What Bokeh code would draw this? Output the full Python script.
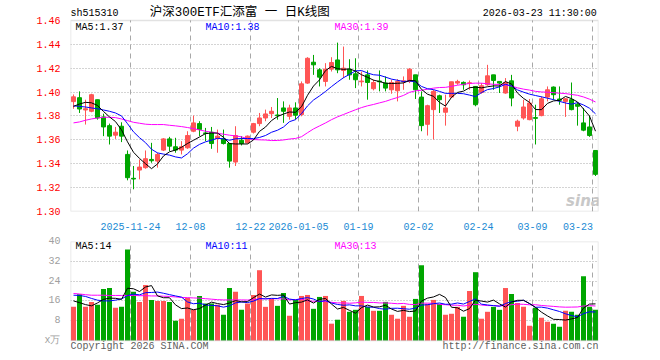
from bokeh.plotting import figure
from bokeh.layouts import column
from bokeh.models import FixedTicker, Label, ColumnDataSource, NumeralTickFormatter, BoxAnnotation
from bokeh.embed import file_html
from bokeh.resources import INLINE

# ---------------- data ----------------
open_ = [1.392, 1.3953, 1.385, 1.3839, 1.3936, 1.3792, 1.3719, 1.3639, 1.3714, 1.3478,
         1.3278, 1.3347, 1.3367, 1.3436, 1.3422, 1.3514, 1.3608, 1.3542, 1.3514, 1.3533,
         1.3672, 1.3736, 1.3658, 1.3664, 1.3611, 1.3608, 1.3569, 1.3414, 1.3597, 1.3575,
         1.3664, 1.3736, 1.3783, 1.3819, 1.3808, 1.3867, 1.3797, 1.3867, 1.3811, 1.4075,
         1.4250, 1.4186, 1.4089, 1.4192, 1.4269, 1.4181, 1.4192, 1.4153, 1.4086, 1.4144,
         1.4028, 1.4092, 1.4075, 1.4019, 1.4011, 1.4086, 1.4089, 1.4144, 1.3958, 1.3730,
         1.3853, 1.3969, 1.3831, 1.3958, 1.4075, 1.4081, 1.4072, 1.4047, 1.3997, 1.4061,
         1.4144, 1.4089, 1.3992, 1.4094, 1.3714, 1.3783, 1.3769, 1.3786, 1.3803, 1.3958,
         1.4042, 1.3942, 1.3922, 1.3936, 1.3897, 1.3742, 1.3708, 1.3511]
high = [1.398, 1.4006, 1.3936, 1.3986, 1.3936, 1.3819, 1.3736, 1.3708, 1.3747, 1.3511,
        1.3381, 1.3436, 1.3511, 1.3575, 1.3492, 1.3614, 1.3625, 1.3617, 1.3589, 1.3672,
        1.3803, 1.3756, 1.3700, 1.3708, 1.3686, 1.3686, 1.3575, 1.3714, 1.3631, 1.3636,
        1.3742, 1.3825, 1.3853, 1.3875, 1.3950, 1.3922, 1.3894, 1.3914, 1.4089, 1.4292,
        1.4311, 1.4200, 1.4242, 1.4292, 1.4414, 1.4381, 1.4275, 1.4283, 1.4172, 1.4181,
        1.4103, 1.4181, 1.4131, 1.4103, 1.4108, 1.4131, 1.4200, 1.4144, 1.4006, 1.3894,
        1.4019, 1.3978, 1.3978, 1.4086, 1.4103, 1.4089, 1.4097, 1.4047, 1.4075, 1.4228,
        1.4144, 1.4089, 1.4117, 1.4144, 1.3769, 1.3936, 1.3942, 1.3894, 1.3964, 1.4047,
        1.4047, 1.4047, 1.3950, 1.4080, 1.3914, 1.3867, 1.3803, 1.3511]
low = [1.386, 1.3825, 1.3728, 1.3831, 1.3769, 1.3631, 1.3561, 1.3608, 1.3581, 1.3261,
       1.3186, 1.3269, 1.3358, 1.3408, 1.3367, 1.3506, 1.3506, 1.3492, 1.3478, 1.3525,
       1.3664, 1.3631, 1.3589, 1.3525, 1.3492, 1.3561, 1.3367, 1.3381, 1.3553, 1.3569,
       1.3653, 1.3714, 1.3756, 1.3783, 1.3769, 1.3742, 1.3769, 1.3769, 1.3797, 1.4069,
       1.4144, 1.4047, 1.4047, 1.4172, 1.4158, 1.4117, 1.4103, 1.4033, 1.4047, 1.3936,
       1.4014, 1.4006, 1.4006, 1.3986, 1.3922, 1.4019, 1.4075, 1.3942, 1.3672, 1.3636,
       1.3603, 1.3825, 1.3719, 1.3950, 1.4061, 1.4019, 1.4019, 1.3881, 1.3986, 1.4053,
       1.4019, 1.3992, 1.3986, 1.3881, 1.3672, 1.3769, 1.3764, 1.3561, 1.3797, 1.3922,
       1.3936, 1.3894, 1.3792, 1.3847, 1.3719, 1.3672, 1.3625, 1.3297]
close = [1.396, 1.3858, 1.386, 1.3978, 1.3783, 1.3708, 1.3631, 1.3664, 1.3631, 1.3283,
         1.3272, 1.3372, 1.3442, 1.3425, 1.3478, 1.3608, 1.3547, 1.3514, 1.3542, 1.3636,
         1.3742, 1.3686, 1.3653, 1.3569, 1.3631, 1.3569, 1.3422, 1.3636, 1.3569, 1.3631,
         1.3736, 1.3783, 1.3817, 1.3839, 1.3803, 1.3839, 1.3867, 1.3806, 1.4069, 1.4283,
         1.4228, 1.4125, 1.4192, 1.4247, 1.4186, 1.4200, 1.4144, 1.4103, 1.4092, 1.4080,
         1.4080, 1.4086, 1.4033, 1.4080, 1.4089, 1.4094, 1.4192, 1.4019, 1.3719, 1.3886,
         1.4006, 1.3936, 1.3867, 1.4086, 1.4089, 1.4061, 1.4078, 1.3894, 1.4053, 1.4136,
         1.4097, 1.4075, 1.4080, 1.3950, 1.3756, 1.3875, 1.3908, 1.3780, 1.3944, 1.4019,
         1.3978, 1.3931, 1.3944, 1.3853, 1.3881, 1.3681, 1.3636, 1.3311]
volume = [13.6, 18.7, 13.6, 15.6, 14.4, 20.8, 21.2, 13.2, 13.6, 36.8,
          19.7, 15.6, 22.4, 16.4, 16.0, 16.0, 15.6, 8.0, 8.8, 17.3,
          12.4, 18.0, 14.9, 14.9, 14.4, 10.4, 21.2, 19.7, 12.4, 14.9,
          18.4, 28.4, 13.6, 16.8, 14.0, 19.2, 10.0, 16.4, 18.0, 18.4,
          12.8, 17.6, 18.0, 6.8, 8.4, 16.0, 11.6, 12.4, 18.0, 13.6,
          12.0, 12.0, 15.6, 10.4, 8.8, 14.0, 9.6, 16.8, 30.4, 14.8,
          16.4, 14.8, 10.4, 10.8, 13.6, 9.6, 20.0, 27.6, 8.8, 11.6,
          13.6, 12.4, 21.2, 18.8, 15.2, 13.6, 6.0, 13.2, 9.2, 7.6,
          6.8, 5.6, 12.0, 11.6, 10.4, 26.0, 13.6, 12.4]

# moving-average values at the left edge (their windows start before the visible data)
ma5_head = [1.388, 1.390, 1.3914, 1.391]
ma10_head = [1.3885, 1.3880, 1.3875, 1.3867, 1.3860, 1.3850, 1.3839, 1.3825, 1.3800]
ma30_head = [1.3742, 1.3750, 1.3764, 1.3775, 1.3783, 1.3789, 1.3789, 1.3786, 1.3775, 1.3761,
             1.3747, 1.3739, 1.3731, 1.3728, 1.3728, 1.3728, 1.3722, 1.3717, 1.3711, 1.3703,
             1.3694, 1.3683, 1.3672, 1.3664, 1.3656, 1.3647, 1.3639, 1.3633, 1.3625]
vma5_head = [16.0, 15.3, 14.5, 14.0]
vma10_head = [18.3, 18.2, 17.8, 17.0, 16.3, 16.0, 16.0, 16.3, 16.8]
vma30_head = [19.0, 18.8, 18.5, 18.3, 18.3, 18.3, 18.2, 18.2, 18.2, 18.2,
              18.2, 18.1, 18.1, 18.0, 18.0, 17.9, 17.8, 17.6, 17.4, 17.3,
              17.2, 17.1, 16.9, 16.7, 16.5, 16.4, 16.4, 16.4, 16.4]

date_ticks = [10, 20, 30, 38, 48, 58, 68, 77, 87]
date_labels = ["2025-11-24", "12-08", "12-22", "2026-01-05", "01-19", "02-02", "02-24", "03-09", "03-23"]
price_ticks = [1.30, 1.32, 1.34, 1.36, 1.38, 1.40, 1.42, 1.44, 1.46]
vol_ticks = [0, 8, 16, 24, 32, 40]

code = "sh515310"
title_text = "沪深300ETF汇添富 一 日K线图"
stamp = "2026-03-23 11:30:00"
price_legend = ["MA5:1.37", "MA10:1.38", "MA30:1.39"]
vol_legend = ["MA5:14", "MA10:11", "MA30:13"]
footer_left = "Copyright 2026 SINA.COM"
footer_right = "http://finance.sina.com.cn"

# ---------------- derived ----------------
def moving(vals, w, head):
    out = list(head)
    for i in range(len(head), len(vals)):
        out.append(sum(vals[i - w + 1:i + 1]) / w)
    return out

n = len(close)
xs = [i + 0.5 for i in range(n)]
UP, DOWN = "#ff5555", "#00a600"
colors = [UP if c >= o else DOWN for o, c in zip(open_, close)]
src = ColumnDataSource(dict(
    x=xs, high=high, low=low,
    top=[max(o, c) for o, c in zip(open_, close)],
    bottom=[min(o, c) for o, c in zip(open_, close)],
    color=colors, vol=volume,
    ma5=moving(close, 5, ma5_head), ma10=moving(close, 10, ma10_head),
    ma30=moving(close, 30, ma30_head),
    vma5=moving(volume, 5, vma5_head), vma10=moving(volume, 10, vma10_head),
    vma30=moving(volume, 30, vma30_head),
))

MONO = "Liberation Mono"
GRID = "#a8a8a8"
BORDER = "#a0a0a0"

def style(p, y_lo, y_hi):
    p.background_fill_color = "white"
    p.border_fill_color = "white"
    p.outline_line_color = None
    p.xgrid.visible = False
    p.ygrid.grid_line_color = GRID
    p.ygrid.grid_line_dash = "1 2"
    p.ygrid.grid_line_width = 1
    for ax in p.yaxis:
        ax.axis_line_color = None
        ax.major_tick_line_color = None
        ax.minor_tick_line_color = None
        ax.major_label_text_font = MONO
        ax.major_label_text_font_size = "10px"
        ax.major_label_standoff = 4
    # vertical dashed date lines, limited to the panel
    p.segment(x0=date_ticks, x1=date_ticks, y0=y_lo, y1=y_hi,
              line_color=GRID, line_dash="5 4", line_width=1)
    p.add_layout(BoxAnnotation(left=0, right=n, bottom=y_lo, top=y_hi, fill_alpha=0,
                               line_color=BORDER, line_width=1.5, level="overlay"))

def lab(p, x, y, text, color="#000000", size="10px", align="left", font=MONO, style_="normal"):
    p.add_layout(Label(x=x, y=y, text=text, text_color=color, text_font=font,
                       text_font_size=size, text_align=align, text_baseline="middle",
                       text_font_style=style_))

# ---------------- price panel (frame covers header row too) ----------------
PY0, PY1 = 1.30, 1.46
p1 = figure(width=660, height=232, x_range=(0, n), y_range=(PY0, PY0 + 212 / 1200),
            output_backend="svg", toolbar_location=None, title=None,
            min_border_left=70, min_border_right=62, min_border_top=0, min_border_bottom=20)
style(p1, PY0, PY1)
p1.yaxis.ticker = FixedTicker(ticks=price_ticks)
p1.yaxis.formatter = NumeralTickFormatter(format="0.00")
p1.yaxis.major_label_text_color = "#ff0000"
p1.ygrid.ticker = FixedTicker(ticks=price_ticks[1:-1])

xax = p1.xaxis[0]
label_pos = date_ticks[:-1] + [84.6]
xax.ticker = FixedTicker(ticks=label_pos)
xax.major_label_overrides = {t: s for t, s in zip(label_pos, date_labels)}
xax.axis_line_color = None
xax.major_tick_line_color = None
xax.minor_tick_line_color = None
xax.major_label_text_font = MONO
xax.major_label_text_font_size = "10px"
xax.major_label_text_color = "#1a8ad4"
xax.major_label_standoff = 5

p1.segment(x0="x", y0="low", x1="x", y1="high", color="color", line_width=1, source=src)
p1.vbar(x="x", width=4 / 6, top="top", bottom="bottom", fill_color="color",
        line_color="color", line_width=1, source=src)
p1.line("x", "ma30", color="#ff00ff", line_width=1, source=src)
p1.line("x", "ma10", color="#0000ff", line_width=1, source=src)
p1.line("x", "ma5", color="#000000", line_width=1, source=src)

lab(p1, 0.0, 1.4656, code)
lab(p1, 13.2, 1.4658, title_text, size="12.5px", font="Liberation Mono, Noto Sans CJK SC")
lab(p1, 87.7, 1.4658, stamp, align="right")
lab(p1, 0.83, 1.4544, price_legend[0], "#000000")
lab(p1, 22.5, 1.4544, price_legend[1], "#0000ff")
lab(p1, 44.0, 1.4544, price_legend[2], "#ff00ff")
lab(p1, 82.6, 1.3085, "sina", "#c8c8c8", size="15px", font="DejaVu Sans", style_="bold italic")

# ---------------- volume panel (frame covers footer row too) ----------------
VY0, VY1 = 0, 40
p2 = figure(width=660, height=128, x_range=p1.x_range, y_range=(-20 / 2.475, 40),
            output_backend="svg", toolbar_location=None, title=None, x_axis_location=None,
            min_border_left=70, min_border_right=62, min_border_top=9, min_border_bottom=0)
style(p2, VY0, VY1)
p2.yaxis.ticker = FixedTicker(ticks=vol_ticks)
p2.yaxis.major_label_overrides = {0: "x万"}
p2.yaxis.major_label_text_color = "#a0a0a0"
p2.ygrid.ticker = FixedTicker(ticks=vol_ticks[1:-1])

p2.vbar(x="x", width=5 / 6, top="vol", bottom=0, fill_color="color", line_color=None, source=src)
p2.line("x", "vma30", color="#ff00ff", line_width=1, source=src)
p2.line("x", "vma10", color="#0000ff", line_width=1, source=src)
p2.line("x", "vma5", color="#000000", line_width=1, source=src)

lab(p2, 0.83, 37.98, vol_legend[0], "#000000")
lab(p2, 22.5, 37.98, vol_legend[1], "#0000ff")
lab(p2, 44.0, 37.98, vol_legend[2], "#ff00ff")
lab(p2, 0.0, -2.45, footer_left, "#606060")
lab(p2, 88.0, -2.45, footer_right, "#606060", align="right")

layout = column(p1, p2, spacing=0)
open("out.html", "w").write(file_html(layout, INLINE))
